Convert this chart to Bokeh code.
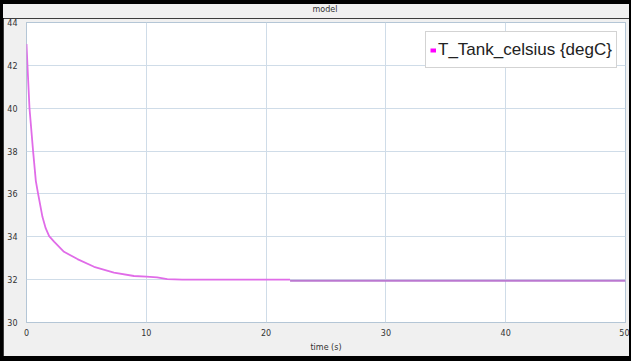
from bokeh.plotting import figure
from bokeh.layouts import column
from bokeh.models import Range1d, FixedTicker, Legend, LegendItem, Div
from bokeh.embed import file_html
from bokeh.resources import INLINE

# Simulated tank temperature (degC) over time (s)
time_s = [0, 0.08, 0.25, 0.55, 0.78, 0.97, 1.33, 1.6, 1.89, 2.3, 3.13, 4.25,
          5.64, 7.3, 8.97, 10.0, 10.9, 11.75, 13, 15, 18, 22, 22, 30, 40, 50]
t_tank = [43.0, 42.0, 40.0, 38.0, 36.6, 36.0, 34.93, 34.4, 34.03, 33.77, 33.30,
          32.96, 32.6, 32.33, 32.17, 32.14, 32.11, 32.02, 32.0, 32.0, 32.0, 32.0,
          31.95, 31.95, 31.95, 31.95]

x_ticks = [0, 10, 20, 30, 40, 50]
y_ticks = [30, 32, 34, 36, 38, 40, 42, 44]
series_name = "T_Tank_celsius {degC}"
chart_title = "model"

# title strip above the chart
header = Div(text=chart_title, width=626, height=14, margin=(4, 2, 0, 3),
             styles={"background-color": "#f0f0f0", "font-family": "DejaVu Sans",
                     "font-size": "8px", "color": "#333333",
                     "text-align": "center", "line-height": "12px",
                     "padding-left": "18px", "box-sizing": "border-box"})

p = figure(width=626, height=338, output_backend="svg", toolbar_location=None,
           x_range=Range1d(0, 50), y_range=Range1d(30, 44),
           min_border_left=23, min_border_right=4, min_border_top=4,
           min_border_bottom=34)
p.margin = (0, 2, 5, 3)

p.background_fill_color = "white"
p.border_fill_color = "#f0f0f0"
p.outline_line_color = "#b4c6d6"
p.outline_line_width = 1

for ax in (p.xaxis[0], p.yaxis[0]):
    ax.axis_line_color = None
    ax.major_tick_line_color = None
    ax.minor_tick_line_color = None
    ax.major_tick_out = 0
    ax.major_tick_in = 0
    ax.minor_tick_out = 0
    ax.minor_tick_in = 0
    ax.major_label_text_font = "DejaVu Sans"
    ax.major_label_text_font_size = "8px"
    ax.major_label_text_color = "#333333"

p.xaxis.ticker = FixedTicker(ticks=x_ticks)
p.yaxis.ticker = FixedTicker(ticks=y_ticks)
p.xaxis.major_label_standoff = 6
p.yaxis.major_label_standoff = 9
p.xaxis.axis_label = "time (s)"
p.xaxis.axis_label_text_font = "DejaVu Sans"
p.xaxis.axis_label_text_font_size = "8px"
p.xaxis.axis_label_text_font_style = "normal"
p.xaxis.axis_label_text_color = "#333333"
p.xaxis.axis_label_standoff = 4

p.xgrid.grid_line_color = "#cfdce8"
p.ygrid.grid_line_color = "#cfdce8"

# temperature trace: cool-down part, then the settled part after the step at 22 s
split = time_s.index(22) + 1
p.line(time_s[:split], t_tank[:split], line_color="#e06ce8", line_width=1.8)
p.line(time_s[split:], t_tank[split:], line_color="#bb78d0", line_width=2)

# single-point renderer: draws nothing in the plot, only the legend swatch
swatch = p.line(x=time_s[:1], y=t_tank[:1], line_color="#ff00ff", line_width=4)

legend = Legend(items=[LegendItem(label=series_name, renderers=[swatch])],
                location=(399, 254), orientation="vertical")
legend.label_text_font = "Liberation Sans"
legend.label_text_font_size = "17px"
legend.label_text_color = "#222222"
legend.glyph_width = 6
legend.glyph_height = 20
legend.label_standoff = 2
legend.padding = 4
legend.margin = 0
legend.spacing = 0
legend.label_height = 27
legend.border_line_color = "#a8a8a8"
legend.border_line_width = 1
legend.background_fill_color = "white"
legend.background_fill_alpha = 1
p.add_layout(legend)

page = column(header, p, spacing=0, styles={"background-color": "black"})

open("out.html", "w").write(file_html(page, INLINE))
